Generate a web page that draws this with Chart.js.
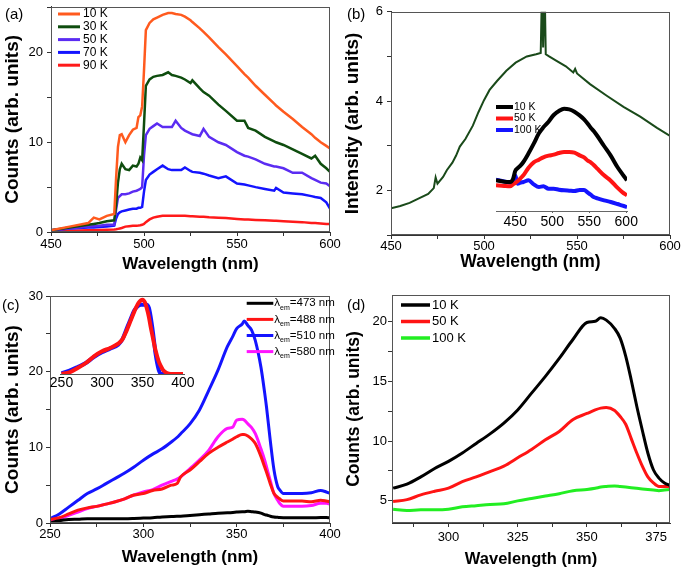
<!DOCTYPE html>
<html>
<head>
<meta charset="utf-8">
<script src="https://cdn.jsdelivr.net/npm/chart.js@4.4.1/dist/chart.umd.min.js"></script>
<style>
  html, body { margin: 0; padding: 0; background: #fff; }
  #page { position: relative; width: 685px; height: 573px; overflow: hidden; }
  canvas { position: absolute; }
</style>
</head>
<body>
<div id="page">
  <canvas id="chartA" width="345" height="285" style="left:0;top:-5px"></canvas>
  <canvas id="chartB" width="345" height="280" style="left:340px;top:0"></canvas>
  <canvas id="insetB" width="160" height="140" style="left:480px;top:95px"></canvas>
  <canvas id="chartC" width="345" height="293" style="left:0;top:280px"></canvas>
  <canvas id="insetC" width="155" height="105" style="left:45px;top:290px"></canvas>
  <canvas id="chartD" width="345" height="293" style="left:340px;top:280px"></canvas>
</div>
<script>
// ---- panel (a): PL spectra vs temperature
const aWave = [450,460,470,473,476,480,484,485,486,487,488,490,492,494,496,497,498,499,500,501,503,505,507,510,513,515,517,520,522,525,526,530,532,535,540,544,550,554,556,560,565,570,571,575,580,585,590,592,595,598,600];
const a10K = [0.2,0.6,1.0,1.6,1.4,1.8,2.0,6.0,9.5,10.8,10.9,10.0,10.8,11.4,11.6,12.8,13.0,14.0,18.0,22.5,23.3,23.7,23.9,24.2,24.4,24.4,24.3,24.2,24.0,23.6,23.4,22.7,22.3,21.7,20.6,19.8,18.5,17.6,17.2,16.3,15.3,14.3,14.1,13.4,12.6,11.7,10.9,10.5,10.0,9.6,9.3];
const a30K = [0.2,0.5,0.8,0.9,1.0,1.2,1.3,3.0,5.5,7.0,7.6,7.0,6.9,7.4,7.3,7.6,8.3,8.0,12.0,16.3,17.0,17.3,17.4,17.5,17.8,17.5,17.4,17.2,17.0,16.6,16.9,16.0,15.6,15.2,14.2,13.5,12.4,12.4,11.6,11.3,10.6,10.1,10.0,9.7,9.2,8.7,8.2,8.5,7.6,7.1,6.7];
const a50K = [0.2,0.4,0.6,0.65,0.7,0.8,0.8,2.5,3.8,4.0,4.2,4.2,4.3,4.5,4.6,4.7,4.8,5.0,8.5,10.8,11.5,11.8,12.1,11.7,11.7,11.7,12.4,11.6,11.3,11.0,10.9,10.7,11.5,10.6,10.0,9.7,8.9,8.5,8.4,8.1,7.6,7.3,7.3,7.1,6.6,6.6,6.0,5.8,5.5,5.4,5.1];
const a70K = [0.2,0.4,0.5,0.5,0.55,0.6,0.7,1.5,2.0,2.2,2.3,2.4,2.5,2.6,2.6,2.7,2.7,2.8,4.5,5.8,6.4,6.7,7.0,7.4,7.0,6.9,6.9,6.9,7.2,6.8,6.7,6.6,6.5,6.3,6.0,6.2,5.4,5.3,5.2,5.0,4.8,4.6,4.9,4.4,4.3,4.2,4.0,3.9,3.8,3.3,2.6];
const a90K = [0.1,0.15,0.2,0.2,0.22,0.25,0.28,0.3,0.35,0.4,0.45,0.6,0.65,0.7,0.7,0.72,0.75,0.8,0.9,1.1,1.4,1.6,1.7,1.8,1.8,1.8,1.8,1.8,1.8,1.75,1.75,1.7,1.7,1.65,1.6,1.55,1.45,1.4,1.4,1.35,1.3,1.25,1.25,1.2,1.15,1.1,1.0,1.0,0.95,0.9,0.9];

// ---- panel (b): main spectrum + inset
const bWave = [450,455,460,465,470,473,474,475,478,480,483,485,487,490,494,497,500,503,507,512,517,523,528,530.5,531.2,531.8,532.6,533.2,535,539,544,548,549,550,557,566,575,584,593,600];
const bInt = [1.6,1.65,1.72,1.82,1.92,2.05,2.29,2.15,2.3,2.45,2.62,2.78,2.98,3.15,3.45,3.75,4.02,4.25,4.45,4.68,4.86,5.0,5.05,5.08,6.6,5.2,6.6,5.05,5.0,4.9,4.78,4.64,4.72,4.62,4.38,4.12,3.87,3.65,3.4,3.22];
const bInWave = [424,435,443,447,450,453,457,461,468,475,482,488,495,502,509,516,523,530,537,543,548,552,556,561,570,579,588,595,601];
const bIn10K = [9.2,8.8,8.7,9.6,12.0,12.8,13.6,14.7,17.3,20.2,23.3,25.1,26.8,28.8,30.0,30.7,30.5,29.8,28.7,27.5,26.2,25.0,24.0,22.5,19.5,16.6,13.2,11.0,9.2];
const bIn50K = [7.7,7.5,7.4,8.0,8.4,8.9,9.8,10.7,13.0,14.6,15.4,16.1,16.6,16.9,17.4,17.7,17.7,17.5,16.7,16.1,15.1,14.6,13.8,12.7,10.7,9.1,7.0,5.6,4.7];
const bIn100K = [9.4,8.9,8.5,8.6,10.7,8.2,8.5,8.7,9.2,8.0,7.2,7.4,6.7,6.7,6.4,6.2,6.1,6.0,6.3,6.3,5.5,4.9,4.2,3.8,3.2,2.7,2.1,1.6,1.2];

// ---- panel (c): excitation spectra + inset
const cWave = [250,255,260,265,270,275,280,285,290,295,300,305,310,315,318,320,325,330,335,340,345,348,350,353,354,356,358,360,363,365,366,368,370,372,373,375,380,385,390,395,398,400];
const c473 = [0.0,0.3,0.45,0.5,0.57,0.57,0.57,0.57,0.57,0.6,0.65,0.7,0.8,0.85,0.9,0.9,1.0,1.1,1.2,1.3,1.35,1.4,1.45,1.5,1.5,1.55,1.5,1.45,1.3,1.1,1.05,0.9,0.8,0.75,0.72,0.7,0.7,0.7,0.7,0.72,0.72,0.7];
const c488 = [0.45,0.7,1.2,1.7,2.0,2.2,2.5,2.8,3.2,3.7,3.9,4.3,4.5,5.0,5.2,6.1,7.0,8.1,9.2,10.0,10.7,11.1,11.4,11.7,11.7,11.5,11.1,10.5,8.8,7.4,6.7,5.2,3.9,3.4,3.2,2.9,2.9,2.9,2.8,3.0,2.9,2.8];
const c510 = [0.57,1.2,2.1,3.0,3.9,4.5,5.2,5.9,6.6,7.4,8.3,9.1,9.8,10.7,11.3,11.8,13.1,14.9,17.5,20.2,23.3,24.7,25.7,26.3,26.7,26.1,25.5,24.1,20.6,17.2,15.3,10.9,7.0,4.8,4.4,3.9,3.9,3.9,4.0,4.3,4.1,3.9];
const c580 = [0.3,0.57,1.0,1.45,1.9,2.2,2.5,2.8,3.2,3.7,4.1,4.4,5.0,5.5,5.8,6.1,7.2,8.3,9.6,11.4,12.5,12.7,13.6,13.7,13.6,13.1,12.6,11.8,9.8,8.3,7.4,5.6,3.9,3.0,2.6,2.2,2.2,2.2,2.3,2.6,2.6,2.5];
const cInWave = [250,260,270,280,290,300,310,320,325,330,335,340,345,348,350,353,355,358,360,363,365,366,370,373,375,380,385,390,400];
const cInRed = [0,0.5,1.8,3.3,5.3,6.8,7.8,9.1,10.3,12.8,15.8,18.8,21.3,22.1,22.3,21.5,20.0,17.0,14.3,10.7,8.3,7.2,3.8,2.2,1.3,0.3,0,0,0];
const cInBlue = [0.2,1.0,2.1,3.3,5.1,6.5,7.6,8.8,10.3,13.3,16.3,19.1,20.5,20.8,20.8,20.8,20.8,19.8,17.3,12.3,8.3,6.3,1.3,0,0,0,0,0,0];

// ---- panel (d): excitation vs temperature
const dWave = [280,285,290,295,300,305,310,315,320,325,330,335,340,345,350,353,355,357,360,362,364,366,368,370,372,374,376,378,380];
const d10K = [6.06,6.4,7.0,7.7,8.3,9.0,9.8,10.6,11.5,12.6,14.0,15.4,16.9,18.5,19.9,20.0,20.3,20.1,19.4,18.6,17.1,15.1,12.9,10.9,9.0,7.6,6.9,6.5,6.3];
const d50K = [4.95,5.1,5.5,5.8,6.06,6.6,7.0,7.45,7.9,8.6,9.3,10.1,10.8,11.8,12.3,12.6,12.75,12.8,12.55,12.05,11.4,10.2,9.0,7.9,7.0,6.5,6.2,6.2,6.2];
const d100K = [4.3,4.2,4.25,4.25,4.3,4.5,4.6,4.7,4.75,5.0,5.2,5.4,5.6,5.85,5.95,6.05,6.15,6.2,6.25,6.2,6.15,6.1,6.05,6.0,5.95,5.9,5.85,5.9,5.95];

const FONT = '"Liberation Sans", Arial, sans-serif';
Chart.defaults.font.family = FONT;
Chart.defaults.color = '#000';

function series(label, xs, ys, color, width, smooth) {
    return {
        label: label,
        data: xs.map((x, i) => ({ x: x, y: ys[i] })),
        borderColor: color,
        backgroundColor: color,
        borderWidth: width,
        pointRadius: 0,
        fill: false,
        tension: 0,
        cubicInterpolationMode: smooth ? 'monotone' : 'default'
    };
}

// only label ticks that fall on a multiple of `every`
function every(n) {
    return v => (Math.abs(v / n - Math.round(v / n)) < 1e-6 ? v : '');
}

function xAxis(o) {
    return {
        type: 'linear', position: 'bottom', min: o.min, max: o.max,
        afterFit: s => { s.height = o.height; },
        ticks: { stepSize: o.step, includeBounds: false, autoSkip: false, maxRotation: 0,
                 padding: o.pad, font: { size: o.size || 13 }, color: '#000', callback: every(o.every) },
        grid: { drawOnChartArea: false, drawTicks: o.tick !== 0, tickLength: o.tick === undefined ? 4 : o.tick, color: o.color || '#333' },
        border: { color: o.color || '#333' },
        title: o.title ? { display: true, text: o.title, color: '#000',
                           font: { size: o.tsize, weight: 'bold' }, padding: { top: 0, bottom: o.tpad } }
                       : { display: false }
    };
}

function yAxis(o) {
    return {
        type: 'linear', position: 'left', min: o.min, max: o.max,
        afterFit: s => { s.width = o.width; },
        ticks: { stepSize: o.step, includeBounds: false, autoSkip: false,
                 padding: o.pad, font: { size: 13 }, color: '#000', callback: every(o.every) },
        grid: { drawOnChartArea: false, tickLength: 4, color: '#333' },
        border: { color: '#333' },
        title: { display: true, text: o.title, color: '#000',
                 font: { size: o.tsize, weight: 'bold' }, padding: { top: o.tpad, bottom: 0 } }
    };
}

function hiddenY(min, max) {
    return { type: 'linear', display: false, min: min, max: max };
}

function drawLabel(ctx, text, x, y, size) {
    ctx.fillStyle = '#000';
    ctx.textBaseline = 'middle';
    ctx.textAlign = 'left';
    ctx.font = size + 'px ' + FONT;
    const parts = text.split('_');
    if (parts.length === 1) {
        ctx.fillText(text, x, y);
        return;
    }
    // 'λ_em=473 nm' -> λ + subscript em + rest
    const m = parts[1].match(/^([a-z]+)(.*)$/);
    ctx.fillText(parts[0], x, y);
    x += ctx.measureText(parts[0]).width;
    ctx.font = Math.round(size * 0.6) + 'px ' + FONT;
    ctx.fillText(m[1], x, y + size * 0.38);
    x += ctx.measureText(m[1]).width;
    ctx.font = size + 'px ' + FONT;
    ctx.fillText(m[2], x, y);
}

// frame box, panel tag and in-plot legend
const panelDecor = {
    id: 'panelDecor',
    afterDatasetsDraw(chart, args, o) {
        const ctx = chart.ctx;
        const a = chart.chartArea;
        ctx.save();
        if (o.frame) {
            ctx.strokeStyle = '#555';
            ctx.lineWidth = 1;
            ctx.strokeRect(Math.round(a.left) + 0.5, Math.round(a.top) + 0.5,
                           Math.round(a.right - a.left) - 1, Math.round(a.bottom - a.top) - 1);
        }
        if (o.tag) {
            ctx.fillStyle = '#000';
            ctx.font = '15px ' + FONT;
            ctx.textBaseline = 'middle';
            ctx.fillText(o.tag, o.tagX, o.tagY);
        }
        if (o.legend) {
            const L = o.legend;
            chart.data.datasets.forEach((ds, i) => {
                const y = L.y + i * L.rowH;
                ctx.strokeStyle = ds.borderColor;
                ctx.lineWidth = L.width;
                ctx.lineCap = 'butt';
                ctx.beginPath();
                ctx.moveTo(L.x0, y);
                ctx.lineTo(L.x1, y);
                ctx.stroke();
                drawLabel(ctx, ds.label, L.x1 + L.gap, y, L.size);
            });
        }
        ctx.restore();
    }
};

function makeChart(id, datasets, scales, padding, decor) {
    return new Chart(document.getElementById(id), {
        type: 'line',
        data: { datasets: datasets },
        options: {
            responsive: false,
            animation: false,
            devicePixelRatio: 1,
            layout: { padding: padding },
            plugins: {
                legend: { display: false },
                tooltip: { enabled: false },
                panelDecor: decor
            },
            scales: scales
        },
        plugins: [panelDecor]
    });
}

// (a)
makeChart('chartA', [
    series('10 K', aWave, a10K, '#ff5a1e', 2.5, false),
    series('30 K', aWave, a30K, '#0e4d0e', 2.5, false),
    series('50 K', aWave, a50K, '#5b2cf2', 2.5, false),
    series('70 K', aWave, a70K, '#1414ff', 2.5, false),
    series('90 K', aWave, a90K, '#ff1a1a', 2.5, false)
], {
    x: xAxis({ min: 450, max: 600, step: 25, every: 50, height: 48, pad: 1, title: 'Wavelength (nm)', tsize: 17, tpad: 5 }),
    y: yAxis({ min: 0, max: 25.1, step: 5, every: 10, width: 51, pad: 4, title: 'Counts (arb. units)', tsize: 19, tpad: 1 })
}, { top: 10, right: 15, left: 0, bottom: 0 }, {
    frame: true, tag: '(a)', tagX: 5, tagY: 20,
    legend: { x0: 58, x1: 80, gap: 3, y: 19, rowH: 12.8, width: 3, size: 12 }
});

// (b)
makeChart('chartB', [
    series('main', bWave, bInt, '#1a4a1a', 2, false)
], {
    x: xAxis({ min: 450, max: 600, step: 25, every: 50, height: 45, pad: 0, title: 'Wavelength (nm)', tsize: 17.5, tpad: 7 }),
    y: yAxis({ min: 1, max: 6, step: 1, every: 2, width: 51, pad: 4, title: 'Intensity (arb. units)', tsize: 19, tpad: 1 })
}, { top: 10, right: 15, left: 0, bottom: 0 }, {
    frame: true, tag: '(b)', tagX: 7, tagY: 15
});

makeChart('insetB', [
    series('10 K', bInWave, bIn10K, '#000000', 4, true),
    series('50 K', bInWave, bIn50K, '#ff1414', 4, true),
    series('100 K', bInWave, bIn100K, '#1414ff', 4, true)
], {
    x: xAxis({ min: 424, max: 601, step: 50, every: 50, height: 24, pad: 1, tick: 2, size: 14, color: '#666' }),
    y: hiddenY(0, 33.3)
}, { top: 5, right: 13, left: 16, bottom: 0 }, {
    legend: { x0: 16, x1: 33, gap: 1, y: 12, rowH: 11.5, width: 4, size: 10.5 }
});

// (c)
makeChart('chartC', [
    series('λ_em=473 nm', cWave, c473, '#000000', 3, true),
    series('λ_em=488 nm', cWave, c488, '#ff1414', 3, true),
    series('λ_em=510 nm', cWave, c510, '#1414ff', 3, true),
    series('λ_em=580 nm', cWave, c580, '#ff14ff', 3, true)
], {
    x: xAxis({ min: 250, max: 400, step: 25, every: 50, height: 50, pad: 0, title: 'Wavelength (nm)', tsize: 17, tpad: 5 }),
    y: yAxis({ min: 0, max: 30, step: 5, every: 10, width: 50, pad: 3, title: 'Counts (arb. units)', tsize: 19, tpad: 1 })
}, { top: 16, right: 15, left: 0, bottom: 0 }, {
    frame: true, tag: '(c)', tagX: 2, tagY: 25.5,
    legend: { x0: 246.7, x1: 273.3, gap: 1, y: 23.3, rowH: 16.1, width: 3, size: 11.5 }
});

makeChart('insetC', [
    series('488', cInWave, cInRed, '#ff1414', 4, true),
    series('510', cInWave, cInBlue, '#1414ff', 4, true)
], {
    x: xAxis({ min: 249, max: 402, step: 50, every: 50, height: 21, pad: 1, tick: 0, size: 14, color: '#555' }),
    y: hiddenY(0, 23.4)
}, { top: 6, right: 15.4, left: 15.7, bottom: 0 }, {});

// (d)
makeChart('chartD', [
    series('10 K', dWave, d10K, '#000000', 3, true),
    series('50 K', dWave, d50K, '#ff1414', 3, true),
    series('100 K', dWave, d100K, '#22ee22', 3, true)
], {
    x: xAxis({ min: 279.6, max: 380, step: 12.5, every: 25, height: 50, pad: 3, title: 'Wavelength (nm)', tsize: 16.5, tpad: 4 }),
    y: yAxis({ min: 3.15, max: 22.2, step: 2.5, every: 5, width: 52, pad: 1, title: 'Counts (arb. units)', tsize: 17.5, tpad: 4 })
}, { top: 15, right: 15, left: 0, bottom: 0 }, {
    frame: true, tag: '(d)', tagX: 7, tagY: 25.5,
    legend: { x0: 61, x1: 90, gap: 2, y: 25, rowH: 16.5, width: 3.5, size: 13 }
});
</script>
</body>
</html>
